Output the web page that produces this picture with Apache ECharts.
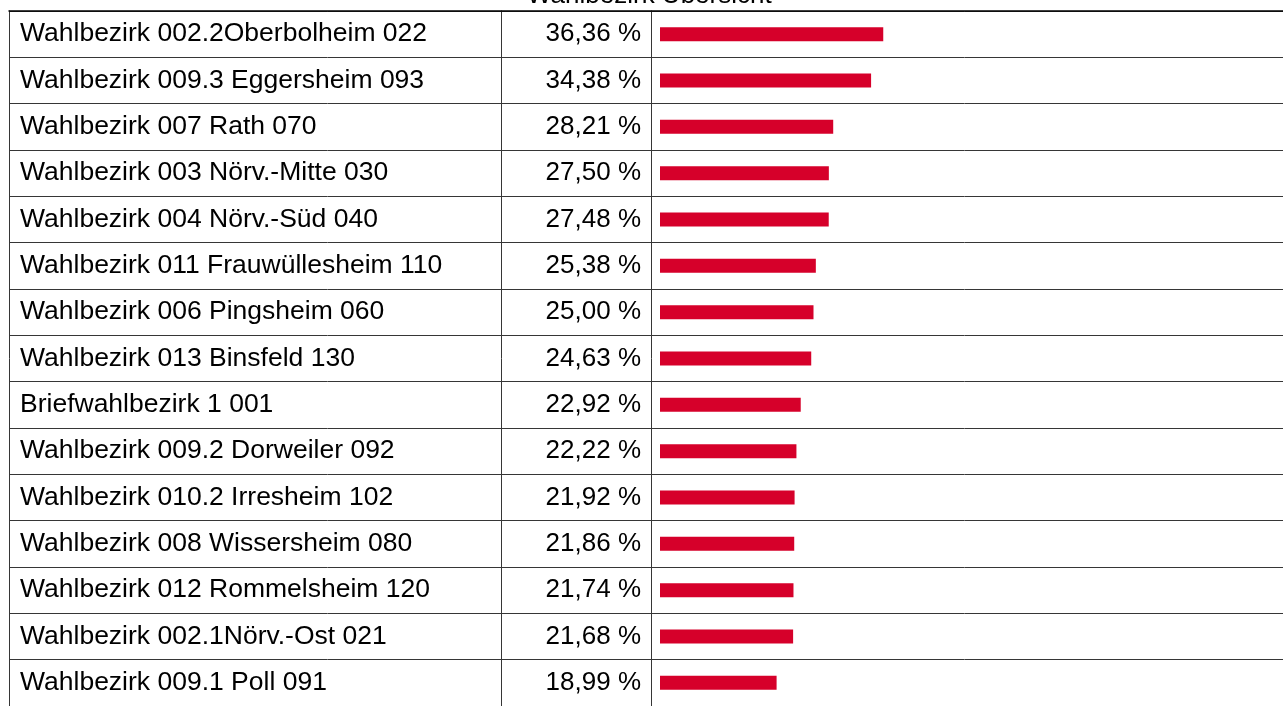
<!DOCTYPE html>
<html>
<head>
<meta charset="utf-8">
<title>Wahlbezirk Übersicht</title>
<script src="https://cdn.jsdelivr.net/npm/echarts@6/dist/echarts.min.js"></script>
<style>
  html, body { margin: 0; padding: 0; background: #fff; }
  #chart { width: 1283px; height: 706px; }
</style>
</head>
<body>
<div id="chart"></div>
<script>
// Polling districts, ordered by share (descending)
const districts = [
  'Wahlbezirk 002.2Oberbolheim 022',
  'Wahlbezirk 009.3 Eggersheim 093',
  'Wahlbezirk 007 Rath 070',
  'Wahlbezirk 003 Nörv.-Mitte 030',
  'Wahlbezirk 004 Nörv.-Süd 040',
  'Wahlbezirk 011 Frauwüllesheim 110',
  'Wahlbezirk 006 Pingsheim 060',
  'Wahlbezirk 013 Binsfeld 130',
  'Briefwahlbezirk 1 001',
  'Wahlbezirk 009.2 Dorweiler 092',
  'Wahlbezirk 010.2 Irresheim 102',
  'Wahlbezirk 008 Wissersheim 080',
  'Wahlbezirk 012 Rommelsheim 120',
  'Wahlbezirk 002.1Nörv.-Ost 021',
  'Wahlbezirk 009.1 Poll 091'
];

// Share per district in percent
const shares = [36.36, 34.38, 28.21, 27.50, 27.48, 25.38, 25.00, 24.63, 22.92, 22.22, 21.92, 21.86, 21.74, 21.68, 18.99];

const FONT = "'Liberation Sans', Arial, Helvetica, sans-serif";
const LINE = '#363636';

function formatPercent(v) {
  return v.toFixed(2).replace('.', ',') + ' %';
}

const chart = echarts.init(document.getElementById('chart'), null, { renderer: 'canvas' });

chart.setOption({
  backgroundColor: '#ffffff',
  animation: false,
  title: {
    text: 'Wahlbezirk Übersicht',
    left: 527,
    top: -17,
    padding: 0,
    textStyle: { fontFamily: FONT, fontSize: 26, fontWeight: 'normal', color: '#000' }
  },
  grid: [
    // bar column
    { left: 660, right: 9, top: 11, bottom: -7 },
    // full table frame
    { left: 9, right: 0, top: 11, bottom: -7 }
  ],
  xAxis: [
    { gridIndex: 0, type: 'value', min: 0, max: 100, show: false },
    {
      gridIndex: 1, type: 'value', position: 'top', min: 0, max: 1,
      axisLine: { show: true, lineStyle: { color: '#000', width: 1.5 } },
      axisTick: { show: false }, axisLabel: { show: false }, splitLine: { show: false }
    }
  ],
  yAxis: [
    {
      gridIndex: 0, type: 'category', data: districts, inverse: true,
      axisLine: { show: false }, axisTick: { show: false }, splitLine: { show: false },
      axisLabel: {
        align: 'left', margin: 640,
        fontFamily: FONT, fontSize: 26.5, color: '#000'
      }
    },
    {
      gridIndex: 1, type: 'category', data: districts, inverse: true,
      axisLine: { show: true, lineStyle: { color: LINE, width: 1 } },
      axisTick: { show: false }, axisLabel: { show: false },
      splitLine: { show: true, lineStyle: { color: LINE, width: 1 } }
    },
    {
      gridIndex: 1, type: 'category', data: districts, inverse: true, position: 'left', offset: -492,
      axisLine: { show: true, lineStyle: { color: LINE, width: 1 } },
      axisTick: { show: false }, axisLabel: { show: false }, splitLine: { show: false }
    },
    {
      gridIndex: 1, type: 'category', data: districts, inverse: true, position: 'left', offset: -642,
      axisLine: { show: true, lineStyle: { color: LINE, width: 1 } },
      axisTick: { show: false }, axisLabel: { show: false }, splitLine: { show: false }
    }
  ],
  series: [
    {
      type: 'bar',
      xAxisIndex: 0,
      yAxisIndex: 0,
      data: shares,
      barWidth: 14,
      itemStyle: { color: '#d6002a' },
      label: {
        show: true,
        position: 'left',
        distance: 19,
        formatter: p => formatPercent(p.value),
        fontFamily: FONT,
        fontSize: 26,
        color: '#000'
      }
    }
  ]
});
</script>
</body>
</html>
